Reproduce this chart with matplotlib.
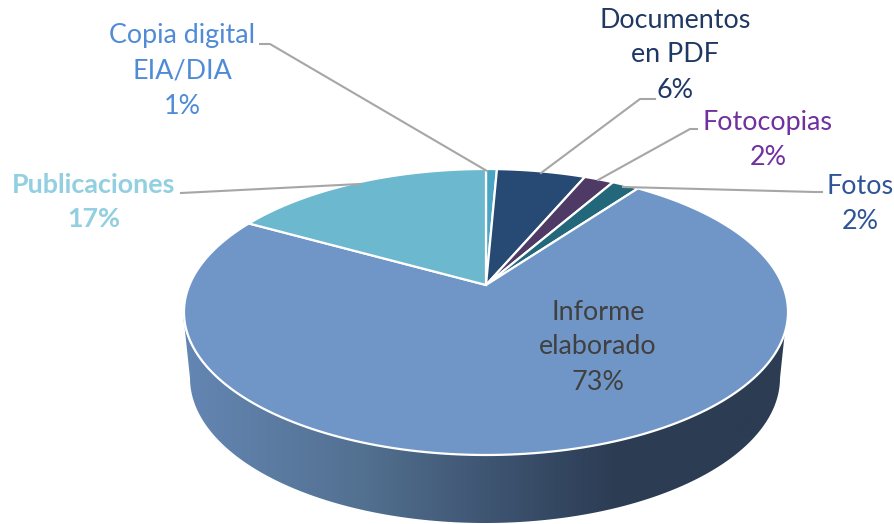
import numpy as np
import matplotlib
matplotlib.use('Agg')
import matplotlib.pyplot as plt
from matplotlib.colors import LinearSegmentedColormap
from matplotlib.patches import Polygon

categories = ['Copia digital\nEIA/DIA', 'Documentos\nen PDF', 'Fotocopias', 'Fotos', 'Informe\nelaborado', 'Publicaciones']
values = [0.7, 5.7, 1.9, 1.75, 73.05, 16.9]
slice_colors = ['#4aa5c4', '#264a74', '#4f3a66', '#22677a', '#7096c8', '#6cb9cf']
label_colors = ['#4f8bd6', '#1f3864', '#7030a0', '#2f5597', '#404040', '#92cfe0']
label_weights = ['normal', 'normal', 'normal', 'normal', 'normal', 'bold']
label_pos = [(182, 71), (675, 55), (768, 140), (860, 204), (598, 347), (94, 202)]
leaders = [
	[(260, 44), (270, 44), (487, 171)],
	[(655, 99), (640, 99), (541, 173)],
	[(697, 129), (690, 129), (598, 180)],
	[(822, 192), (815, 192), (623, 187)],
	[(181, 193), (360, 184)],
]

APEX = (486, 285)
TILT = 0.1888
SCALE_X = 296.6
SCALE_Y = 137.9

def project(t):
	# clockwise angle from the top of the pie -> picture position
	u, v = np.sin(t), np.cos(t)
	w = 1 + TILT * v
	return APEX[0] + SCALE_X * u / w, APEX[1] - SCALE_Y * v / w

def wedge(start, end):
	t = np.linspace(start, end, 200)
	x, y = project(t)
	return np.column_stack((np.r_[APEX[0], x], np.r_[APEX[1], y]))

def side_outline():
	t = np.linspace(np.pi, 0, 200)
	top = np.column_stack((485 + 302 * np.cos(t), 312 + 143 * np.sin(t)))
	bottom = np.column_stack((485 + 295 * np.cos(t), 378 + 145 * np.sin(t)))
	return np.vstack((top, bottom[::-1]))

fig = plt.figure(figsize=(8.95, 5.24), dpi=100)
ax = fig.add_axes([0, 0, 1, 1])
ax.set_xlim(0, 895)
ax.set_ylim(524, 0)
ax.axis('off')
plt.rcParams['font.family'] = ['Lato', 'DejaVu Sans']

# side of the pie
stops = [(0.0, '#6486b3'), (0.30, '#527090'), (0.52, '#3d5370'), (0.72, '#2c3c53'), (1.0, '#2c3c53')]
cmap = LinearSegmentedColormap.from_list('side', stops)
img = ax.imshow(np.linspace(0, 1, 256).reshape(1, -1), cmap=cmap, extent=(183, 787, 524, 312), aspect='auto', zorder=1)
ax.set_xlim(0, 895)
ax.set_ylim(524, 0)
clip = Polygon(side_outline(), closed=True, transform=ax.transData, facecolor='none', edgecolor='none')
ax.add_patch(clip)
img.set_clip_path(clip)

# top of the pie
edges = np.r_[0, np.cumsum(values)] / np.sum(values) * 2 * np.pi
for i, color in enumerate(slice_colors):
	ax.add_patch(Polygon(wedge(edges[i], edges[i + 1]), closed=True, facecolor=color, edgecolor='white', linewidth=1.6, zorder=2))

for line in leaders:
	xs, ys = zip(*line)
	ax.plot(xs, ys, color='#a6a6a6', linewidth=1.5, zorder=3)

for name, val, color, weight, (x, y) in zip(categories, values, label_colors, label_weights, label_pos):
	ax.text(x, y, '%s\n%d%%' % (name, round(val)), color=color, fontweight=weight, fontsize=19.4, ha='center', va='center', linespacing=1.5, zorder=4)

fig.savefig('out.png', dpi=100)
